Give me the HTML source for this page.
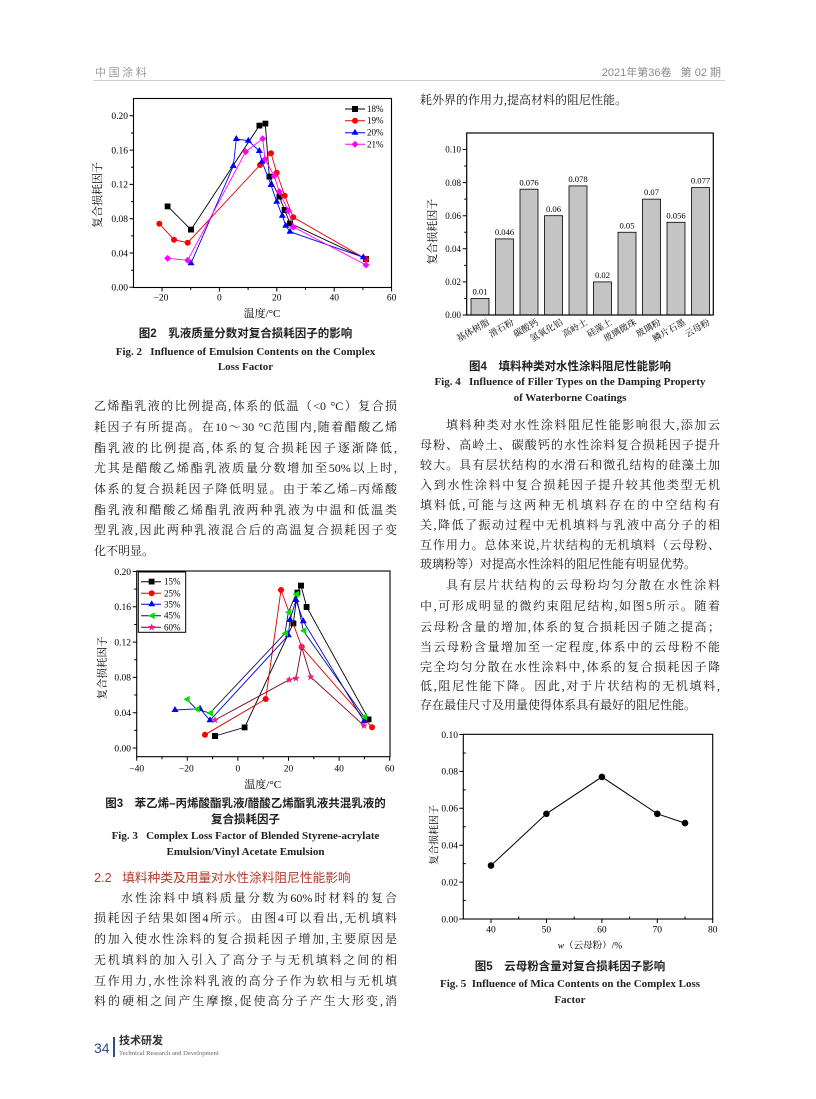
<!DOCTYPE html>
<html><head><meta charset="utf-8">
<style>
html,body{margin:0;padding:0;background:#fff;}
#pg{position:relative;width:816px;height:1099px;overflow:hidden;background:#fff;}
.t{position:absolute;font-family:"Liberation Serif","Noto Serif CJK SC",serif;font-size:12px;line-height:16px;height:16px;color:#1a1718;white-space:nowrap;}
.j{text-align:justify;text-align-last:justify;white-space:normal;}
.L{left:94px;width:303px;}
.Li{left:121px;width:276px;}
.R{left:420px;width:300px;}
.Ri{left:446px;width:274px;}
.cc{position:absolute;font-family:"Liberation Sans","Noto Sans CJK SC",sans-serif;font-weight:bold;font-size:11.5px;line-height:16px;height:16px;color:#231f20;text-align:center;white-space:nowrap;}
.ce{position:absolute;font-family:"Liberation Serif","Noto Serif CJK SC",serif;font-weight:bold;font-size:11px;line-height:16px;height:16px;color:#231f20;text-align:center;white-space:nowrap;}
.cl{left:94px;width:303px;}
.cr{left:420px;width:300px;}
</style></head>
<body><div id="pg">

<!-- header -->
<div style="position:absolute;left:95px;top:65px;font-family:'Liberation Sans','Noto Sans CJK SC',sans-serif;font-size:11px;line-height:16px;color:#9a9a9a;letter-spacing:2.6px;white-space:nowrap;">中国涂料</div>
<div style="position:absolute;left:560px;width:161px;top:65px;text-align:right;font-family:'Liberation Sans','Noto Sans CJK SC',sans-serif;font-size:11px;line-height:16px;color:#8a8a8a;white-space:nowrap;">2021年第36卷&nbsp;&nbsp;&nbsp;第 02 期</div>
<div style="position:absolute;left:93px;top:80px;width:632px;height:1px;background:#cfcfcf;"></div>

<!-- right column top line -->
<div class="t R" style="top:92px;">耗外界的作用力,提高材料的阻尼性能。</div>

<!-- Fig2 caption -->
<div class="cc cl" style="top:326px;">图2　乳液质量分数对复合损耗因子的影响</div>
<div class="ce cl" style="top:344px;">Fig. 2&nbsp;&nbsp;&nbsp;Influence of Emulsion Contents on the Complex</div>
<div class="ce cl" style="top:359px;">Loss Factor</div>

<!-- left para -->
<div class="t L j" style="top:398px;">乙烯酯乳液的比例提高,体系的低温（&lt;0 °C）复合损</div>
<div class="t L j" style="top:419px;">耗因子有所提高。在10～30 °C范围内,随着醋酸乙烯</div>
<div class="t L j" style="top:440px;">酯乳液的比例提高,体系的复合损耗因子逐渐降低,</div>
<div class="t L j" style="top:460px;">尤其是醋酸乙烯酯乳液质量分数增加至50%以上时,</div>
<div class="t L j" style="top:481px;">体系的复合损耗因子降低明显。由于苯乙烯–丙烯酸</div>
<div class="t L j" style="top:502px;">酯乳液和醋酸乙烯酯乳液两种乳液为中温和低温类</div>
<div class="t L j" style="top:522px;">型乳液,因此两种乳液混合后的高温复合损耗因子变</div>
<div class="t L" style="top:543px;">化不明显。</div>

<!-- Fig3 caption -->
<div class="cc cl" style="top:796px;">图3　苯乙烯–丙烯酸酯乳液/醋酸乙烯酯乳液共混乳液的</div>
<div class="cc cl" style="top:812px;">复合损耗因子</div>
<div class="ce cl" style="top:828px;">Fig. 3&nbsp;&nbsp;&nbsp;Complex Loss Factor of Blended Styrene-acrylate</div>
<div class="ce cl" style="top:844px;">Emulsion/Vinyl Acetate Emulsion</div>

<div style="position:absolute;left:94px;top:870px;font-family:'Liberation Sans','Noto Sans CJK SC',sans-serif;font-size:12.7px;line-height:16px;color:#b23a2a;white-space:nowrap;">2.2&nbsp;&nbsp;&nbsp;填料种类及用量对水性涂料阻尼性能影响</div>

<div class="t Li j" style="top:890px;">水性涂料中填料质量分数为60%时材料的复合</div>
<div class="t L j" style="top:910px;">损耗因子结果如图4所示。由图4可以看出,无机填料</div>
<div class="t L j" style="top:931px;">的加入使水性涂料的复合损耗因子增加,主要原因是</div>
<div class="t L j" style="top:952px;">无机填料的加入引入了高分子与无机填料之间的相</div>
<div class="t L j" style="top:973px;">互作用力,水性涂料乳液的高分子作为软相与无机填</div>
<div class="t L j" style="top:993px;">料的硬相之间产生摩擦,促使高分子产生大形变,消</div>

<!-- Fig4 caption -->
<div class="cc cr" style="top:359px;">图4　填料种类对水性涂料阻尼性能影响</div>
<div class="ce cr" style="top:374px;">Fig. 4&nbsp;&nbsp;&nbsp;Influence of Filler Types on the Damping Property</div>
<div class="ce cr" style="top:390px;">of Waterborne Coatings</div>

<!-- right para -->
<div class="t Ri j" style="top:417px;">填料种类对水性涂料阻尼性能影响很大,添加云</div>
<div class="t R j" style="top:437px;">母粉、高岭土、碳酸钙的水性涂料复合损耗因子提升</div>
<div class="t R j" style="top:457px;">较大。具有层状结构的水滑石和微孔结构的硅藻土加</div>
<div class="t R j" style="top:477px;">入到水性涂料中复合损耗因子提升较其他类型无机</div>
<div class="t R j" style="top:497px;">填料低,可能与这两种无机填料存在的中空结构有</div>
<div class="t R j" style="top:517px;">关,降低了振动过程中无机填料与乳液中高分子的相</div>
<div class="t R j" style="top:537px;">互作用力。总体来说,片状结构的无机填料（云母粉、</div>
<div class="t R" style="top:556px;">玻璃粉等）对提高水性涂料的阻尼性能有明显优势。</div>
<div class="t Ri j" style="top:577px;">具有层片状结构的云母粉均匀分散在水性涂料</div>
<div class="t R j" style="top:598px;">中,可形成明显的微约束阻尼结构,如图5所示。随着</div>
<div class="t R j" style="top:619px;">云母粉含量的增加,体系的复合损耗因子随之提高；</div>
<div class="t R j" style="top:639px;">当云母粉含量增加至一定程度,体系中的云母粉不能</div>
<div class="t R j" style="top:659px;">完全均匀分散在水性涂料中,体系的复合损耗因子降</div>
<div class="t R j" style="top:678px;">低,阻尼性能下降。因此,对于片状结构的无机填料,</div>
<div class="t R" style="top:697px;">存在最佳尺寸及用量使得体系具有最好的阻尼性能。</div>

<!-- Fig5 caption -->
<div class="cc cr" style="top:959px;">图5　云母粉含量对复合损耗因子影响</div>
<div class="ce cr" style="top:976px;">Fig. 5&nbsp;&nbsp;Influence of Mica Contents on the Complex Loss</div>
<div class="ce cr" style="top:992px;">Factor</div>

<!-- footer -->
<div style="position:absolute;left:94px;top:1039px;font-family:'Liberation Sans',sans-serif;font-size:14px;line-height:18px;color:#2e4b8b;">34</div>
<div style="position:absolute;left:113px;top:1037px;width:2px;height:20px;background:#2e4b8b;"></div>
<div style="position:absolute;left:119px;top:1034px;font-family:'Liberation Sans','Noto Sans CJK SC',sans-serif;font-weight:bold;font-size:11px;line-height:15px;color:#333;white-space:nowrap;">技术研发</div>
<div style="position:absolute;left:119px;top:1050px;font-family:'Liberation Serif',serif;font-size:6.6px;line-height:8px;color:#666;white-space:nowrap;">Technical Research and Development</div>

<svg width="816" height="1099" viewBox="0 0 816 1099" style="position:absolute;left:0;top:0;" font-family="Liberation Serif, Noto Serif CJK SC, serif">
<defs>
<marker id="sqK" markerUnits="userSpaceOnUse" markerWidth="6" markerHeight="6" refX="3" refY="3"><rect width="6" height="6" fill="#000"/></marker>
<marker id="ciR" markerUnits="userSpaceOnUse" markerWidth="7" markerHeight="7" refX="3.5" refY="3.5"><circle cx="3.5" cy="3.5" r="3" fill="#f00"/></marker>
<marker id="trB" markerUnits="userSpaceOnUse" markerWidth="8" markerHeight="8" refX="3.5" refY="4"><polygon points="3.5,0 7,6 0,6" fill="#00f"/></marker>
<marker id="diM" markerUnits="userSpaceOnUse" markerWidth="8" markerHeight="8" refX="3.5" refY="3.5"><polygon points="3.5,0 7,3.5 3.5,7 0,3.5" fill="#f0f"/></marker>
<marker id="trG" markerUnits="userSpaceOnUse" markerWidth="8" markerHeight="8" refX="3.5" refY="3.5"><polygon points="0,3.5 6.5,0 6.5,7" fill="#00e000"/></marker>
<marker id="stP" markerUnits="userSpaceOnUse" markerWidth="8" markerHeight="8" refX="4" refY="4"><polygon points="4,0 5,2.62 7.8,2.76 5.62,4.53 6.35,7.24 4,5.7 1.65,7.24 2.38,4.53 0.2,2.76 3,2.62" fill="#e8208a"/></marker>
<marker id="ciK" markerUnits="userSpaceOnUse" markerWidth="8" markerHeight="8" refX="4" refY="4"><circle cx="4" cy="4" r="3.3" fill="#000"/></marker>
</defs>

<!-- ===== Fig 2 ===== -->
<g>
<rect x="133.5" y="98.5" width="258" height="189" fill="none" stroke="#000" stroke-width="1.1"/>
<path d="M133.5 287.3h-4M133.5 253h-4M133.5 218.7h-4M133.5 184.4h-4M133.5 150.1h-4M133.5 115.8h-4M133.5 270.2h-2.5M133.5 235.9h-2.5M133.5 201.6h-2.5M133.5 167.3h-2.5M133.5 133h-2.5M162 287.5v4M219.4 287.5v4M276.8 287.5v4M334.2 287.5v4M391.6 287.5v4M190.7 287.5v2.5M248.1 287.5v2.5M305.5 287.5v2.5M362.9 287.5v2.5" stroke="#000" stroke-width="1" fill="none"/>
<g font-size="9.5" text-anchor="end" fill="#000">
<text x="128" y="290.6">0.00</text><text x="128" y="256.3">0.04</text><text x="128" y="222">0.08</text><text x="128" y="187.7">0.12</text><text x="128" y="153.4">0.16</text><text x="128" y="119.1">0.20</text>
</g>
<g font-size="9.5" text-anchor="middle" fill="#000">
<text x="161" y="300.5">−20</text><text x="219.4" y="300.5">0</text><text x="276.8" y="300.5">20</text><text x="334.2" y="300.5">40</text><text x="391.6" y="300.5">60</text>
</g>
<text x="98" y="195" font-size="11" text-anchor="middle" dominant-baseline="central" transform="rotate(-90 98 195)">复合损耗因子</text>
<text x="262" y="317" font-size="11" text-anchor="middle">温度/°C</text>

<polyline points="167.7,206.3 191,229.7 259.3,125.7 265.3,123.7 269.3,176.7 279.3,196.7 284.7,210 290,223.3 366,259" fill="none" stroke="#000" stroke-width="0.9" marker-start="url(#sqK)" marker-mid="url(#sqK)" marker-end="url(#sqK)"/>
<polyline points="159.3,223.7 174,239.7 187.7,242.7 260,165 271,153.3 276.7,172.7 284.7,195.7 293.3,217.3 366,259" fill="none" stroke="#e00" stroke-width="0.9" marker-start="url(#ciR)" marker-mid="url(#ciR)" marker-end="url(#ciR)"/>
<polyline points="191,263.3 233.3,166 236.3,139 248.3,140.7 259.3,151 262,161.7 271,185 276.7,201.7 282.3,215.7 285.7,225.7 290,231.7 363.3,257.3" fill="none" stroke="#00f" stroke-width="0.9" marker-start="url(#trB)" marker-mid="url(#trB)" marker-end="url(#trB)"/>
<polyline points="167.7,258.3 187.7,260.3 245.7,151.7 262.7,138.7 265,159.3 274.3,176 279.3,191.7 288.3,211 293.3,227 366,265" fill="none" stroke="#f0f" stroke-width="0.9" marker-start="url(#diM)" marker-mid="url(#diM)" marker-end="url(#diM)"/>

<polyline points="345,109 355,109 365,109" fill="none" stroke="#000" stroke-width="1" marker-mid="url(#sqK)"/>
<polyline points="345,120.7 355,120.7 365,120.7" fill="none" stroke="#e00" stroke-width="1" marker-mid="url(#ciR)"/>
<polyline points="345,132.7 355,132.7 365,132.7" fill="none" stroke="#00f" stroke-width="1" marker-mid="url(#trB)"/>
<polyline points="345,144.3 355,144.3 365,144.3" fill="none" stroke="#f0f" stroke-width="1" marker-mid="url(#diM)"/>
<g font-size="9" fill="#000">
<text x="367" y="112">18%</text><text x="367" y="123.7">19%</text><text x="367" y="135.7">20%</text><text x="367" y="147.3">21%</text>
</g>
</g>

<!-- ===== Fig 4 ===== -->
<g>
<g fill="#c4c4c4" stroke="#000" stroke-width="0.8">
<rect x="471" y="298.45" width="18" height="16.55"/>
<rect x="495.5" y="238.9" width="18" height="76.1"/>
<rect x="520" y="189.2" width="18" height="125.8"/>
<rect x="544.5" y="215.7" width="18" height="99.3"/>
<rect x="569" y="185.9" width="18" height="129.1"/>
<rect x="593.5" y="281.9" width="18" height="33.1"/>
<rect x="618" y="232.25" width="18" height="82.75"/>
<rect x="642.5" y="199.15" width="18" height="115.85"/>
<rect x="667" y="222.3" width="18" height="92.7"/>
<rect x="691.5" y="187.6" width="18" height="127.4"/>
</g>
<rect x="466.7" y="133" width="246.6" height="182" fill="none" stroke="#000" stroke-width="1.2"/>
<path d="M466.7 315h-4M466.7 281.9h-4M466.7 248.8h-4M466.7 215.7h-4M466.7 182.6h-4M466.7 149.5h-4M466.7 298.45h-2.5M466.7 265.35h-2.5M466.7 232.25h-2.5M466.7 199.15h-2.5M466.7 166.05h-2.5" stroke="#000" stroke-width="1"/>
<g font-size="9" text-anchor="end" fill="#000">
<text x="461" y="318.2">0.00</text><text x="461" y="285.1">0.02</text><text x="461" y="252">0.04</text><text x="461" y="218.9">0.06</text><text x="461" y="185.8">0.08</text><text x="461" y="152.7">0.10</text>
</g>
<g font-size="8.6" text-anchor="middle" fill="#000">
<text x="480" y="294.5">0.01</text>
<text x="504.5" y="235">0.046</text>
<text x="529" y="185.3">0.076</text>
<text x="553.5" y="211.8">0.06</text>
<text x="578" y="182">0.078</text>
<text x="602.5" y="278">0.02</text>
<text x="627" y="228.3">0.05</text>
<text x="651.5" y="195.2">0.07</text>
<text x="676" y="218.4">0.056</text>
<text x="700.5" y="183.7">0.077</text>
</g>
<g font-size="9" text-anchor="end" fill="#000">
<text x="490" y="324" transform="rotate(-30 490 324)">基体树脂</text>
<text x="514.5" y="324" transform="rotate(-30 514.5 324)">滑石粉</text>
<text x="539" y="324" transform="rotate(-30 539 324)">碳酸钙</text>
<text x="563.5" y="324" transform="rotate(-30 563.5 324)">氢氧化铝</text>
<text x="588" y="324" transform="rotate(-30 588 324)">高岭土</text>
<text x="612.5" y="324" transform="rotate(-30 612.5 324)">硅藻土</text>
<text x="637" y="324" transform="rotate(-30 637 324)">玻璃微珠</text>
<text x="661.5" y="324" transform="rotate(-30 661.5 324)">玻璃粉</text>
<text x="686" y="324" transform="rotate(-30 686 324)">鳞片石墨</text>
<text x="710.5" y="324" transform="rotate(-30 710.5 324)">云母粉</text>
</g>
<text x="433" y="231.7" font-size="11" text-anchor="middle" dominant-baseline="central" transform="rotate(-90 433 231.7)">复合损耗因子</text>
</g>

<!-- ===== Fig 3 ===== -->
<g>
<rect x="136.7" y="571" width="253.3" height="185.7" fill="none" stroke="#000" stroke-width="1.1"/>
<path d="M136.7 748h-4M136.7 712.7h-4M136.7 677.4h-4M136.7 642.1h-4M136.7 606.8h-4M136.7 571.5h-4M136.7 730.35h-2.5M136.7 695.05h-2.5M136.7 659.75h-2.5M136.7 624.45h-2.5M136.7 589.15h-2.5M136.7 756.7v4M187.3 756.7v4M237.9 756.7v4M288.5 756.7v4M339.1 756.7v4M389.7 756.7v4M162 756.7v2.5M212.6 756.7v2.5M263.2 756.7v2.5M313.8 756.7v2.5M364.4 756.7v2.5" stroke="#000" stroke-width="1"/>
<g font-size="9.5" text-anchor="end" fill="#000">
<text x="131" y="751.3">0.00</text><text x="131" y="716">0.04</text><text x="131" y="680.7">0.08</text><text x="131" y="645.4">0.12</text><text x="131" y="610.1">0.16</text><text x="131" y="574.8">0.20</text>
</g>
<g font-size="9.5" text-anchor="middle" fill="#000">
<text x="136.7" y="771.5">−40</text><text x="186.3" y="771.5">−20</text><text x="237.9" y="771.5">0</text><text x="288.5" y="771.5">20</text><text x="339.1" y="771.5">40</text><text x="389.7" y="771.5">60</text>
</g>
<text x="103" y="668" font-size="10.5" text-anchor="middle" dominant-baseline="central" transform="rotate(-90 103 668)">复合损耗因子</text>
<text x="262.7" y="788" font-size="11" text-anchor="middle">温度/°C</text>

<polyline points="215,736 244.7,727.3 293.3,623.3 297.3,592.7 301,585.7 306.7,607 368.7,719.3" fill="none" stroke="#000" stroke-width="0.9" marker-start="url(#sqK)" marker-mid="url(#sqK)" marker-end="url(#sqK)"/>
<polyline points="205,734.7 265.7,699 281,590 301.7,647 372,727.3" fill="none" stroke="#d00" stroke-width="0.9" marker-start="url(#ciR)" marker-mid="url(#ciR)" marker-end="url(#ciR)"/>
<polyline points="175,710 200,708.7 210,720.3 288.3,635.3 290,620 296,600 303.3,621.3 364,721.3" fill="none" stroke="#00d" stroke-width="0.9" marker-start="url(#trB)" marker-mid="url(#trB)" marker-end="url(#trB)"/>
<polyline points="186.7,699.3 196.7,709.3 210,713 285,633.3 288.3,612.3 296,594.3 303.3,630.7 364,716.7" fill="none" stroke="#101060" stroke-width="0.9" marker-start="url(#trG)" marker-mid="url(#trG)" marker-end="url(#trG)"/>
<polyline points="215,720 289.3,679.7 296,678.3 301.7,647 310.7,677 364,725.7" fill="none" stroke="#800020" stroke-width="0.9" marker-start="url(#stP)" marker-mid="url(#stP)" marker-end="url(#stP)"/>

<rect x="138.3" y="572" width="47.4" height="60.3" fill="#fff" stroke="#000" stroke-width="1"/>
<polyline points="141,581.7 151.7,581.7 161,581.7" fill="none" stroke="#000" stroke-width="1" marker-mid="url(#sqK)"/>
<polyline points="141,593.3 151.7,593.3 161,593.3" fill="none" stroke="#d00" stroke-width="1" marker-mid="url(#ciR)"/>
<polyline points="141,604.3 151.7,604.3 161,604.3" fill="none" stroke="#00d" stroke-width="1" marker-mid="url(#trB)"/>
<polyline points="141,615.7 151.7,615.7 161,615.7" fill="none" stroke="#101060" stroke-width="1" marker-mid="url(#trG)"/>
<polyline points="141,627.3 151.7,627.3 161,627.3" fill="none" stroke="#800020" stroke-width="1" marker-mid="url(#stP)"/>
<g font-size="9" fill="#000">
<text x="164" y="584.7">15%</text><text x="164" y="596.3">25%</text><text x="164" y="607.3">35%</text><text x="164" y="618.7">45%</text><text x="164" y="630.3">60%</text>
</g>
</g>

<!-- ===== Fig 5 ===== -->
<g>
<rect x="463.3" y="734.3" width="249.4" height="184.7" fill="none" stroke="#000" stroke-width="1.1"/>
<path d="M463.3 919h-4M463.3 882.1h-4M463.3 845.2h-4M463.3 808.3h-4M463.3 771.4h-4M463.3 734.5h-4M463.3 900.55h2.5M463.3 863.65h2.5M463.3 826.75h2.5M463.3 789.85h2.5M463.3 752.95h2.5M491 919v4M546.4 919v4M601.9 919v4M657.3 919v4M712.7 919v4M518.7 919v-2.5M574.2 919v-2.5M629.6 919v-2.5M685 919v-2.5" stroke="#000" stroke-width="1"/>
<g font-size="9.5" text-anchor="end" fill="#000">
<text x="458" y="922.3">0.00</text><text x="458" y="885.4">0.02</text><text x="458" y="848.5">0.04</text><text x="458" y="811.6">0.06</text><text x="458" y="774.7">0.08</text><text x="458" y="737.8">0.10</text>
</g>
<g font-size="9.5" text-anchor="middle" fill="#000">
<text x="491" y="932.5">40</text><text x="546.4" y="932.5">50</text><text x="601.9" y="932.5">60</text><text x="657.3" y="932.5">70</text><text x="712.7" y="932.5">80</text>
</g>
<text x="435" y="835" font-size="10" text-anchor="middle" dominant-baseline="central" transform="rotate(-90 435 835)">复合损耗因子</text>
<text x="590" y="948.5" font-size="9.5" text-anchor="middle"><tspan font-style="italic">w</tspan>（云母粉）/%</text>
<polyline points="491,865.5 546.4,813.8 601.9,776.9 657.3,813.8 685,823.1" fill="none" stroke="#000" stroke-width="1" marker-start="url(#ciK)" marker-mid="url(#ciK)" marker-end="url(#ciK)"/>
</g>
</svg>

</div></body></html>
